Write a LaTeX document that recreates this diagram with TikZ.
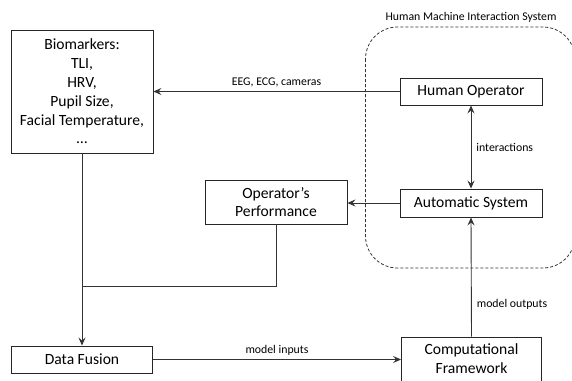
\documentclass[tikz,border=0pt]{standalone}
\usepackage{fontspec}
\setmainfont{Carlito}
\usetikzlibrary{arrows.meta}
\begin{document}
\begin{tikzpicture}[x=1pt,y=-1pt,
  box/.style={draw=black!85, line width=0.9pt, fill=white, inner sep=0pt,
    font=\fontsize{15.6}{18.8}\selectfont, align=center},
  lbl/.style={font=\fontsize{11.8}{13}\selectfont, inner sep=1pt},
  conn/.style={draw=black!80, line width=0.9pt},
  tip/.style={Stealth[length=8pt,width=7pt,inset=3pt]},
  arr/.style={conn, -{Stealth[length=8pt,width=7pt,inset=3pt]}},
  group/.style={draw=black!80, line width=0.8pt, dash pattern=on 3pt off 2pt, rounded corners=32pt}]
\useasboundingbox (0,0) rectangle (572,380);
\clip (0,0) rectangle (572,380);

% grouping frame of the interaction system
\draw[group] (365.5,27) rectangle (575,268);
\node[lbl] (hmis) at (471,17) {Human Machine Interaction System};

% boxes
\node[box, minimum width=142pt, minimum height=123pt] (bio) at (82,91.5)
  {Biomarkers:\\TLI,\\HRV,\\Pupil Size,\\Facial Temperature,\\\dots};
\node[box, minimum width=142pt, minimum height=27pt] (human) at (471,91.5) {Human Operator};
\node[box, minimum width=142pt, minimum height=28pt] (auto) at (471,203) {Automatic System};
\node[box, minimum width=142pt, minimum height=44pt] (perf) at (276,202)
  {Operator’s\\Performance};
\node[box, minimum width=141pt, minimum height=27pt] (fusion) at (82,359.5) {Data Fusion};
\node[box, minimum width=140pt, minimum height=44pt] (comp) at (471.5,359)
  {Computational\\Framework};

% join point of the two inputs to the fusion step
\coordinate (join) at (bio.south |- 0,286.5);

% connectors
\draw[arr] (human.west) -- node[lbl, above=3pt] (eeg) {EEG, ECG, cameras} (bio.east |- human.west);
\draw[conn, {Stealth[length=8pt,width=7pt,inset=3pt]}-{Stealth[length=8pt,width=7pt,inset=3pt]}]
  (human.south) -- node[lbl, right=4pt] (inter) {interactions} (auto.north);
\draw[arr] (auto.west) -- (perf.east |- auto.west);
\draw[arr] (bio.south) -- (fusion.north);
\draw[conn] (perf.south) |- (join);
\draw[arr] (fusion.east) -- node[lbl, above=3pt, pos=0.5] (min) {model inputs} (comp.west |- fusion.east);
\draw[arr] (comp.north) -- node[lbl, right=4pt, pos=0.27] (mout) {model outputs} (auto.south);
\end{tikzpicture}
\end{document}
